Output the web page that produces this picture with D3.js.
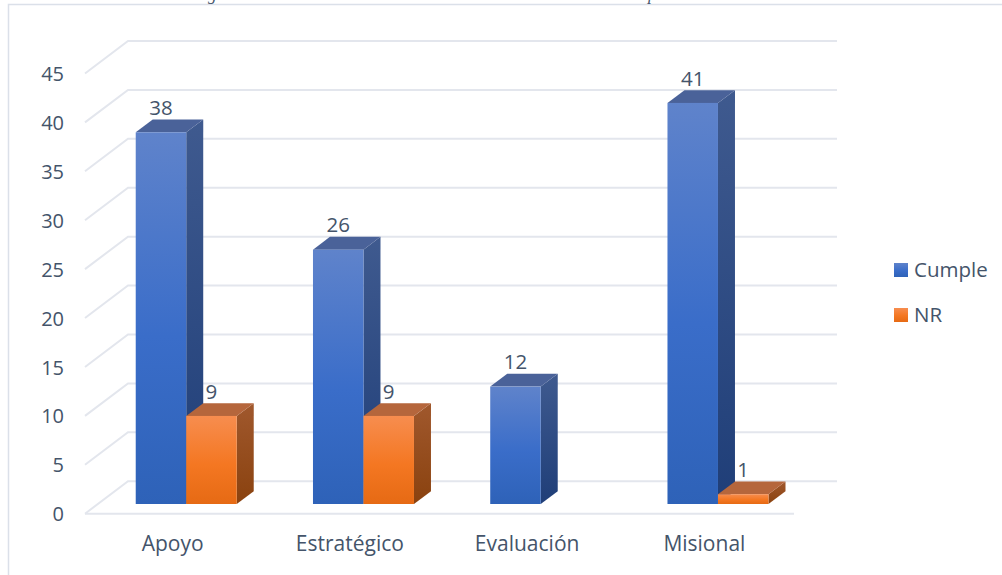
<!DOCTYPE html>
<html>
  <head>
    <meta charset="UTF-8" />
    <title>Cumple / NR</title>
    <script src="https://d3js.org/d3.v7.min.js"></script>
    <style>
      body { margin: 0; background: #fff; }
      svg { display: block; }
      text { font-family: 'Open Sans', sans-serif; fill: #44546a; }
    </style>
  </head>

  <body>
    <div id="main"></div>
    <script type="text/javascript">
      const categories = ['Apoyo', 'Estratégico', 'Evaluación', 'Misional'];
      const cumple = [38, 26, 12, 41];
      const nr = [9, 9, null, 1];
      const yTicks = [0, 5, 10, 15, 20, 25, 30, 35, 40, 45];
      const seriesNames = ['Cumple', 'NR'];

      const width = 1002;
      const height = 575;

      // floor of the 3d box: front edge and how far the back wall is shifted
      const wallDx = 43;
      const wallDy = -32.5;
      // bars stand partway in, and have this depth
      const barInX = 12.6;
      const barInY = -9.7;
      const depthX = 17;
      const depthY = -12.8;
      const barWidth = 50.5;

      const svg = d3
        .select('div#main')
        .append('svg')
        .attr('width', width)
        .attr('height', height);

      const defs = svg.append('defs');
      function gradient(id, stops) {
        const g = defs
          .append('linearGradient')
          .attr('id', id)
          .attr('x1', 0)
          .attr('y1', 0)
          .attr('x2', 0)
          .attr('y2', 1);
        stops.forEach((s) => {
          g.append('stop').attr('offset', s[0]).attr('stop-color', s[1]);
        });
      }
      gradient('blueFront', [[0, '#5f83cb'], [0.55, '#3a6dc9'], [1, '#2e62b8']]);
      gradient('blueSide', [[0, '#3f5a8f'], [1, '#1f3e78']]);
      gradient('orangeFront', [[0, '#f78d4f'], [0.55, '#f47722'], [1, '#e66a14']]);
      gradient('orangeSide', [[0, '#a0582d'], [1, '#8a420f']]);

      const x = d3.scaleBand().domain(categories).range([85, 794]);
      const y = d3.scaleLinear().domain([0, 45]).range([513.7, 73.5]);
      const sub = d3
        .scaleBand()
        .domain(seriesNames)
        .range([-barWidth, barWidth]);

      // page frame, top and left only
      svg.append('path')
        .attr('d', 'M8.5,575V4.5H1002')
        .attr('fill', 'none')
        .attr('stroke', '#dbe0e9')
        .attr('stroke-width', 1.5);

      // the caption above is cut off by the frame, only these tails show
      svg.append('text')
        .attr('x', 208)
        .attr('y', 0)
        .attr('font-size', 17)
        .style('font-family', "'Liberation Serif', serif")
        .style('font-style', 'italic')
        .text('g');
      svg.append('text')
        .attr('x', 648)
        .attr('y', 0)
        .attr('font-size', 17)
        .style('font-family', "'Liberation Serif', serif")
        .style('font-style', 'italic')
        .text('p');

      // gridlines: slanted bit on the side wall, then along the back wall
      const gridColor = '#e3e6ed';
      svg.append('g')
        .selectAll('path')
        .data(yTicks)
        .join('path')
        .attr('fill', 'none')
        .attr('stroke', gridColor)
        .attr('stroke-width', 2)
        .attr('d', (d) => {
          const r = x.range();
          return `M${r[0]},${y(d)}L${r[0] + wallDx},${y(d) + wallDy}H${r[1] + wallDx}`;
        });
      svg.append('line')
        .attr('x1', x.range()[0])
        .attr('x2', x.range()[1])
        .attr('y1', y(0))
        .attr('y2', y(0))
        .attr('stroke', gridColor)
        .attr('stroke-width', 2);

      // y labels
      svg.append('g')
        .selectAll('text')
        .data(yTicks)
        .join('text')
        .attr('x', 64)
        .attr('y', (d) => y(d))
        .attr('dy', '0.38em')
        .attr('text-anchor', 'end')
        .attr('font-size', 20)
        .text((d) => d);

      // x labels
      svg.append('g')
        .selectAll('text')
        .data(categories)
        .join('text')
        .attr('x', (d) => x(d) + x.bandwidth() / 2 - 1)
        .attr('y', 551)
        .attr('text-anchor', 'middle')
        .attr('font-size', 21)
        .text((d) => d);

      function drawBars(values, name, front, side, top) {
        const g = svg.append('g');
        categories.forEach((c, i) => {
          const v = values[i];
          if (v === null) return;
          const x0 = x(c) + x.bandwidth() / 2 + barInX + sub(name);
          const x1 = x0 + barWidth;
          const y0 = y(0) + barInY;
          const y1 = y(v) + barInY;
          g.append('path')
            .attr('fill', `url(#${side})`)
            .attr('d', `M${x1},${y0}L${x1 + depthX},${y0 + depthY}V${y1 + depthY}L${x1},${y1}Z`);
          g.append('path')
            .attr('fill', top)
            .attr('d', `M${x0},${y1}L${x0 + depthX},${y1 + depthY}H${x1 + depthX}L${x1},${y1}Z`);
          g.append('rect')
            .attr('x', x0)
            .attr('y', y1)
            .attr('width', barWidth)
            .attr('height', y0 - y1)
            .attr('fill', `url(#${front})`);
          g.append('text')
            .attr('x', x0 + barWidth / 2)
            .attr('y', y1 + depthY - 4.5)
            .attr('text-anchor', 'middle')
            .attr('font-size', 20.5)
            .text(v);
        });
      }
      drawBars(cumple, 'Cumple', 'blueFront', 'blueSide', '#4a6299');
      drawBars(nr, 'NR', 'orangeFront', 'orangeSide', '#b5663c');

      // legend
      const legendFill = ['url(#blueFront)', 'url(#orangeFront)'];
      const legend = d3
        .scalePoint()
        .domain(seriesNames)
        .range([270, 315]);
      seriesNames.forEach((s, i) => {
        svg.append('rect')
          .attr('x', 894)
          .attr('y', legend(s) - 7)
          .attr('width', 14)
          .attr('height', 14)
          .attr('fill', legendFill[i]);
        svg.append('text')
          .attr('x', 914)
          .attr('y', legend(s))
          .attr('dy', '0.35em')
          .attr('font-size', 20.5)
          .text(s);
      });
    </script>
  </body>
</html>
